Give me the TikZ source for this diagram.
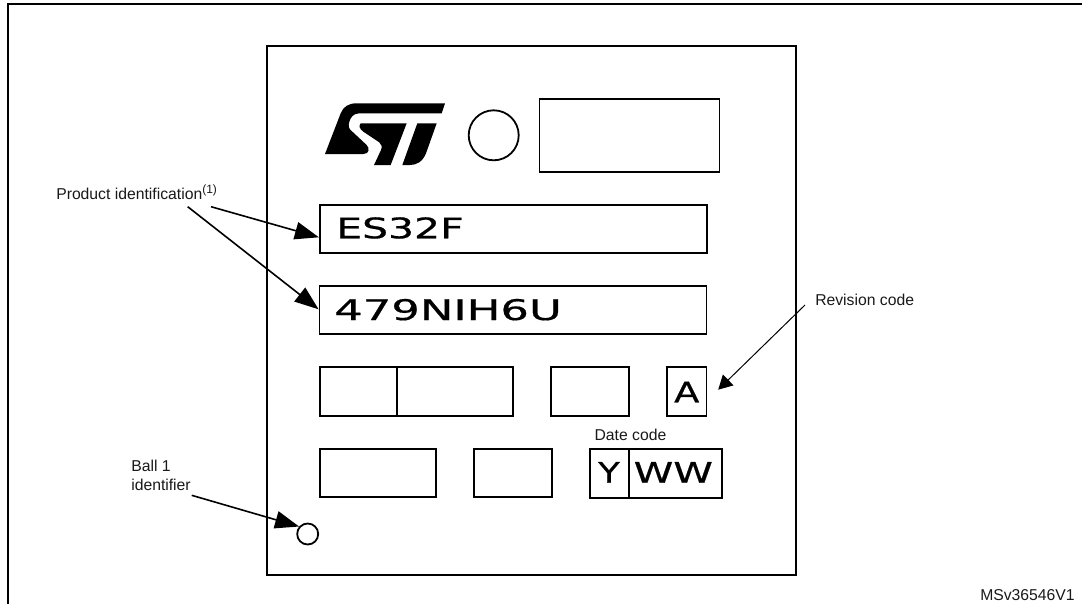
\documentclass[tikz,border=0pt]{standalone}
\usepackage{fontspec}
\setmainfont{Liberation Sans}
\newfontfamily\boxfont[RawFeature={embolden=0.5}]{DejaVu Sans}
\usetikzlibrary{arrows.meta}
\def\uu{0.75pt}
\tikzset{
  x=0.75pt,y=-0.75pt,
  outerline/.style={line width=2.3*\uu,black},
  boxn/.style={draw=black,line width=1.8*\uu,inner sep=0pt,fill=none},
  lbl/.style={inner sep=0pt,anchor=base west,font=\fontsize{11.8pt}{14pt}\selectfont,text=black!90},
  code/.style={inner sep=0pt,anchor=base west,font=\boxfont\fontsize{21.3pt}{24pt}\selectfont},
  codec/.style={inner sep=0pt,anchor=base,font=\boxfont\fontsize{21.3pt}{24pt}\selectfont},
  bigarrow/.style={line width=1.6*\uu,-{Triangle[length=24*\uu,width=17.5*\uu]}},
  thinarrow/.style={line width=1*\uu,-{Triangle[length=14*\uu,width=15*\uu]}},
}
\begin{document}
\begin{tikzpicture}
\useasboundingbox (0,0) rectangle (1082,604);
% outer frame
\draw[outerline] (1082,4) -- (8,4) -- (8,604);
% chip
\node[draw=black,line width=2.3*\uu,inner sep=0pt,minimum width=528.5*\uu,minimum height=529*\uu] (chip) at (531.5,310.5) {};
% logo
\begin{scope}[shift={(300,80)},x=0.25pt,y=-0.25pt]
\fill[black] (75,222) -- (122,100) .. controls (130,80) and (145,70) .. (170,70) -- (435,70) -- (425,100) -- (178,100) .. controls (160,100) and (152,112) .. (148,125) .. controls (144,138) and (146,146) .. (155,153) -- (200,195) .. controls (210,205) and (208,222) .. (190,222) -- cycle;
\fill[black] (182,130) -- (320,130) -- (272,255) -- (222,255) -- (243,210) .. controls (247,200) and (245,194) .. (238,187) -- (190,155) .. controls (178,146) and (176,138) .. (182,130) -- cycle;
\fill[black] (352,130) -- (410,130) -- (378,220) .. controls (368,245) and (350,255) .. (330,255) -- (307,255) -- cycle;
\end{scope}
% top row
\node[boxn,circle,minimum size=50*\uu] (seal) at (493.7,135.3) {};
\node[boxn,minimum width=180*\uu,minimum height=73*\uu] (topbox) at (629.5,135.3) {};
% product lines
\node[boxn,minimum width=387*\uu,minimum height=48*\uu] (es) at (513.3,229) {};
\node[boxn,minimum width=387*\uu,minimum height=48.3*\uu] (num) at (513,310) {};
\node[code] (estxt) at (336,238.3) {\scalebox{1.44}[1]{ES32F}};
\node[code] (numtxt) at (334,320) {\scalebox{1.58}[1]{479NIH6U}};
% row 3
\node[boxn,minimum width=77.5*\uu,minimum height=49*\uu] (r3a) at (358.7,391.8) {};
\node[boxn,minimum width=115.7*\uu,minimum height=49*\uu] (r3b) at (455.2,391.8) {};
\node[boxn,minimum width=78*\uu,minimum height=49*\uu] (r3c) at (590.3,391.5) {};
\node[boxn,minimum width=39.2*\uu,minimum height=49*\uu] (abox) at (686.9,391.5) {};
\node[codec] (atxt) at (686.7,402.3) {\scalebox{1.3}[1]{A}};
% row 4
\node[boxn,minimum width=116*\uu,minimum height=48.3*\uu] (r4a) at (378,473.2) {};
\node[boxn,minimum width=77.4*\uu,minimum height=48.3*\uu] (r4b) at (513,473.2) {};
\node[boxn,minimum width=38.7*\uu,minimum height=49*\uu] (ybox) at (609.7,473.2) {};
\node[boxn,minimum width=93*\uu,minimum height=49*\uu] (wbox) at (675.5,473.2) {};
\node[codec] (ytxt) at (609,482.7) {\scalebox{1.25}[1]{Y}};
\node[codec] (wtxt) at (673.3,482.7) {\scalebox{1.41}[1]{WW}};
% ball
\node[boxn,circle,minimum size=21*\uu] (ball) at (307.7,534) {};
% labels
\node[lbl] (prod) at (56,199) {Product identification\textsuperscript{\fontsize{9pt}{10pt}\selectfont(1)}};
\node[lbl] (rev) at (815,305) {Revision code};
\node[lbl] (date) at (594.3,440.3) {Date code};
\node[lbl] (ball1) at (131,471) {Ball 1};
\node[lbl] (ident) at (131,490) {identifier};
\node[lbl] (ms) at (980,600) {MSv36546V1};
% connectors
\coordinate (p1) at (211,206.7);
\coordinate (p2) at (187.7,206.7);
\coordinate (r1) at (805,305);
\coordinate (b1) at (191.7,495.3);
\draw[bigarrow] (p1) -- ([yshift=-8.3*\uu]es.west);
\draw[bigarrow] (p2) -- ([yshift=0.7*\uu]num.west);
\draw[thinarrow] (r1) -- ([xshift=10.8*\uu,yshift=1.8*\uu]abox.east);
\draw[bigarrow] (b1) -- (ball.139);
\end{tikzpicture}
\end{document}
